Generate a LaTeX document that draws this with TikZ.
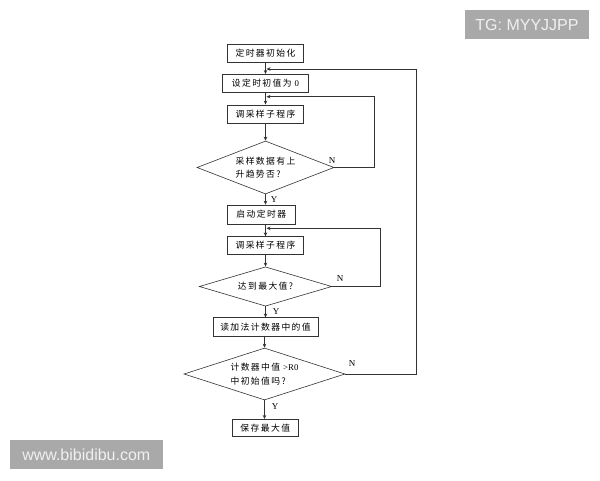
\documentclass[tikz,border=0pt]{standalone}
\usepackage{fontspec}
\setmainfont{Liberation Serif}
\newfontfamily\cjk[LetterSpace=16]{Noto Sans CJK SC}
\newfontfamily\wm{Liberation Sans}
\usetikzlibrary{shapes.geometric,arrows.meta}
\definecolor{wmgray}{HTML}{A9A9A9}
\definecolor{ln}{HTML}{333333}
\begin{document}
\begin{tikzpicture}[x=1pt,y=-1pt,
  stepbox/.style={draw=ln, line width=0.6pt, inner sep=0pt, font=\cjk\fontsize{8.8}{10}\selectfont},
  dia/.style={draw=ln, line width=0.6pt, diamond, aspect=2.6, inner sep=0pt, align=left, font=\cjk\fontsize{8.8}{13.5}\selectfont},
  conn/.style={draw=ln, line width=0.6pt, -{Stealth[length=4pt,width=3.5pt]}},
  yn/.style={font=\fontsize{9}{10}\selectfont, inner sep=0pt},
  wmbox/.style={fill=wmgray, text=white!94!black, inner sep=0pt, font=\wm\fontsize{16}{16}\selectfont}]
\useasboundingbox (0,0) rectangle (600,480);
\fill[white] (0,0) rectangle (600,480);

\node[stepbox, minimum width=75.6, minimum height=18] (b1) at (265.5,53.3) {定时器初始化};
\node[stepbox, minimum width=85.6, minimum height=18] (b2) at (265.5,83.3) {设定时初值为\hspace{3pt}\normalfont 0};
\node[stepbox, minimum width=75.6, minimum height=18.3] (b3) at (265.5,114) {调采样子程序};
\node[dia, minimum width=137, minimum height=53] (d1) at (265.5,167.5) {采样数据有上\\升趋势否?};
\node[stepbox, minimum width=67.3, minimum height=19] (b4) at (261.3,214.5) {启动定时器};
\node[stepbox, minimum width=75.6, minimum height=17.3] (b5) at (265.5,245.3) {调采样子程序};
\node[dia, minimum width=132.4, minimum height=39.3] (d2) at (265.5,286.5) {达到最大值?};
\node[stepbox, minimum width=105, minimum height=18.5] (b6) at (265.5,327) {读加法计数器中的值};
\node[dia, minimum width=161, minimum height=52] (d3) at (264.5,374) {计数器中值\hspace{3pt}{\normalfont{>}R0}\\中初始值吗?};
\node[stepbox, minimum width=66, minimum height=17.4] (b7) at (265.3,428) {保存最大值};

\coordinate (j1) at (265.5,69);
\coordinate (j2) at (265.5,96.7);
\coordinate (j3) at (265.5,228.3);
\coordinate (r1) at (416.7,69);
\coordinate (r2) at (374.3,96.7);
\coordinate (r3) at (380,228.3);

\draw[conn] (b1.south) -- (b2.north);
\draw[conn] (b2.south) -- (b3.north);
\draw[conn] (b3.south) -- (d1.north);
\draw[conn] (d1.south) -- (d1.south |- b4.north);
\draw[conn] (b4.south -| j3) -- (b5.north);
\draw[conn] (b5.south) -- (d2.north);
\draw[conn] (d2.south) -- (d2.south |- b6.north);
\draw[conn] (b6.south -| d3.north) -- (d3.north);
\draw[conn] (d3.south) -- (d3.south |- b7.north);

\draw[conn] (d1.east) -| (r2) -- ([xshift=1pt]j2);
\draw[conn] (d2.east) -| (r3) -- ([xshift=1pt]j3);
\draw[conn] (d3.east) -| (r1) -- ([xshift=1pt]j1);

\node[yn] (n1) at (332,161) {N};
\node[yn] (y1) at (274,200) {Y};
\node[yn] (n2) at (340,279) {N};
\node[yn] (y2) at (276,312) {Y};
\node[yn] (n3) at (352,364) {N};
\node[yn] (y3) at (275,407) {Y};

\node[wmbox, minimum width=124, minimum height=29.3] (tg) at (527,24.7) {TG: MYYJJPP};
\node[wmbox, minimum width=152.7, minimum height=29.3] (bib) at (86.3,454.7) {www.bibidibu.com};
\end{tikzpicture}
\end{document}
